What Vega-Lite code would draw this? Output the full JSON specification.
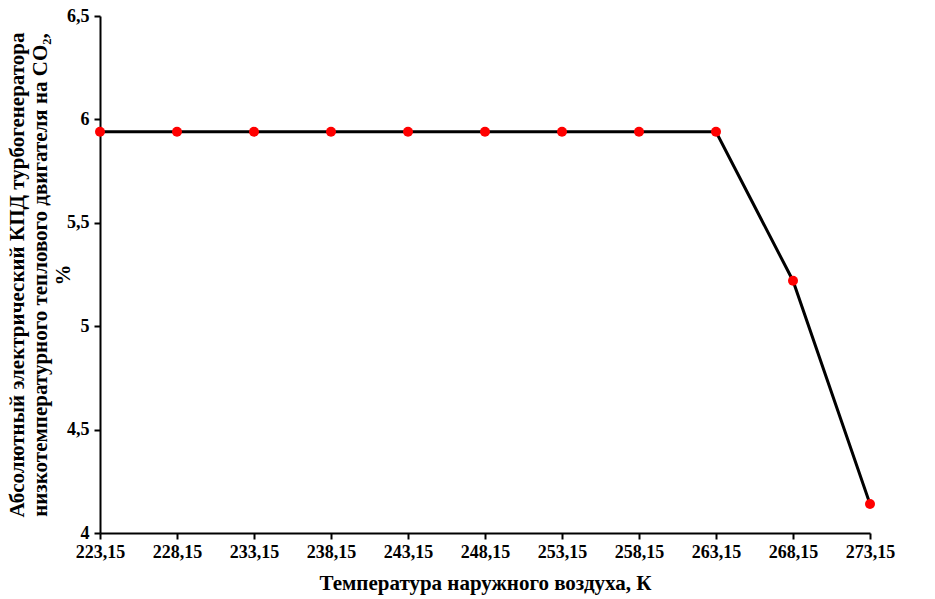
{
  "$schema": "https://vega.github.io/schema/vega-lite/v6.json",
  "width": 770,
  "height": 517,
  "autosize": {"type": "none"},
  "padding": {"left": 100, "top": 16, "right": 65, "bottom": 66},
  "background": "white",
  "config": {
    "view": {"stroke": null},
    "locale": {"number": {"decimal": ",", "thousands": " ", "grouping": [3], "currency": ["", ""]}},
    "axis": {
      "domainColor": "black",
      "domainWidth": 2,
      "tickColor": "black",
      "tickWidth": 2,
      "tickSize": 6,
      "grid": false,
      "labelFont": "Liberation Serif",
      "labelFontWeight": "bold",
      "labelFontSize": 18,
      "labelColor": "black",
      "titleFont": "Liberation Serif",
      "titleFontWeight": "bold",
      "titleFontSize": 21,
      "titleColor": "black"
    }
  },
  "data": {
    "values": [
      {"t": 223.15, "eff": 5.94},
      {"t": 228.15, "eff": 5.94},
      {"t": 233.15, "eff": 5.94},
      {"t": 238.15, "eff": 5.94},
      {"t": 243.15, "eff": 5.94},
      {"t": 248.15, "eff": 5.94},
      {"t": 253.15, "eff": 5.94},
      {"t": 258.15, "eff": 5.94},
      {"t": 263.15, "eff": 5.94},
      {"t": 268.15, "eff": 5.22},
      {"t": 273.15, "eff": 4.14}
    ]
  },
  "encoding": {
    "x": {
      "field": "t",
      "type": "quantitative",
      "scale": {"domain": [223.15, 273.15], "nice": false, "zero": false},
      "axis": {
        "values": [223.15, 228.15, 233.15, 238.15, 243.15, 248.15, 253.15, 258.15, 263.15, 268.15, 273.15],
        "format": ".2f",
        "labelPadding": 4,
        "labelFlush": false,
        "labelOverlap": false,
        "title": "Температура наружного воздуха, К",
        "titlePadding": 11
      }
    },
    "y": {
      "field": "eff",
      "type": "quantitative",
      "scale": {"domain": [4, 6.5], "nice": false, "zero": false},
      "axis": {
        "values": [4, 4.5, 5, 5.5, 6, 6.5],
        "format": ".1~f",
        "labelPadding": 5,
        "labelFlush": false,
        "labelOverlap": false,
        "title": ["Абсолютный электрический КПД турбогенератора", "низкотемпературного теплового двигателя на CO₂,", "%"],
        "titleLineHeight": 23,
        "titleBaseline": "middle",
        "titleAngle": -90,
        "titleX": -83,
        "titleAlign": "center"
      }
    }
  },
  "layer": [
    {"mark": {"type": "line", "color": "black", "strokeWidth": 3}},
    {"mark": {"type": "point", "filled": true, "color": "#ff0000", "opacity": 1, "size": 100}}
  ]
}
